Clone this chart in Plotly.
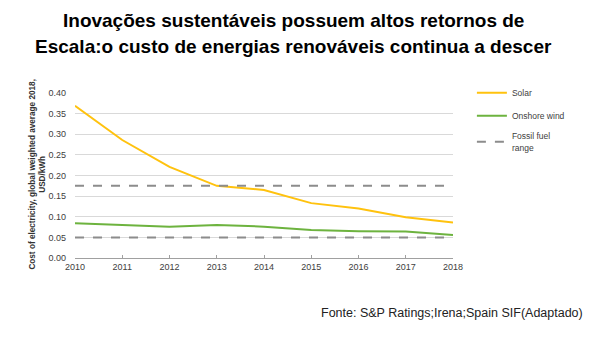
import plotly.graph_objects as go

years = [2010, 2011, 2012, 2013, 2014, 2015, 2016, 2017, 2018]
solar = [0.369, 0.286, 0.221, 0.175, 0.165, 0.133, 0.120, 0.099, 0.086]
onshore_wind = [0.084, 0.080, 0.076, 0.080, 0.076, 0.068, 0.065, 0.064, 0.056]
fossil_low = [0.05] * len(years)
fossil_high = [0.175] * len(years)
y_ticks = [0.00, 0.05, 0.10, 0.15, 0.20, 0.25, 0.30, 0.35, 0.40]

fig = go.Figure()
fig.add_trace(go.Scatter(x=years, y=solar, mode="lines", name="Solar",
                         line=dict(color="#ffc20e", width=2), legendgroup="s"))
fig.add_trace(go.Scatter(x=years, y=onshore_wind, mode="lines", name="Onshore wind",
                         line=dict(color="#6db33f", width=2), legendgroup="w"))
fig.add_trace(go.Scatter(x=years, y=fossil_high, mode="lines", name="Fossil fuel<br>range",
                         line=dict(color="#8c8c8c", width=2, dash="dash"), legendgroup="f"))
fig.add_trace(go.Scatter(x=years, y=fossil_low, mode="lines", name="Fossil fuel<br>range",
                         line=dict(color="#8c8c8c", width=2, dash="dash"), legendgroup="f",
                         showlegend=False))

fig.update_layout(
    width=602, height=339,
    margin=dict(l=75, r=149, t=93, b=81),
    paper_bgcolor="white", plot_bgcolor="white",
    font=dict(family="Liberation Sans, Arial, sans-serif", color="#404040"),
    legend=dict(x=1.050, y=1.09, xanchor="left", yanchor="top",
                font=dict(size=8.5, color="#404040"), tracegroupgap=4,
                traceorder="grouped",
                bgcolor="rgba(0,0,0,0)", itemwidth=30),
    showlegend=True,
)
fig.add_annotation(text="<b>Inovações sustentáveis possuem altos retornos de</b>",
                   xref="paper", yref="paper", x=0.577, y=1.442, xanchor="center", yanchor="middle",
                   showarrow=False, font=dict(size=19, color="black"))
fig.add_annotation(text="<b>Escala:o custo de energias renováveis continua a descer</b>",
                   xref="paper", yref="paper", x=0.577, y=1.279, xanchor="center", yanchor="middle",
                   showarrow=False, font=dict(size=19, color="black"))
fig.add_annotation(text="<b>Cost of electricity, global weighted average 2018,<br>USD/kWh</b>",
                   xref="paper", yref="paper", x=-0.099, y=0.509, xanchor="center", yanchor="middle",
                   textangle=-90, showarrow=False, font=dict(size=8.2, color="#333333"))
fig.update_xaxes(range=[2010, 2018], tickvals=years, ticktext=[str(y) for y in years],
                 showgrid=False, showline=True, linecolor="#a0a0a0", linewidth=1,
                 ticks="inside", ticklen=3, tickcolor="#a0a0a0",
                 tickfont=dict(size=9, color="#404040"), zeroline=False)
fig.update_yaxes(range=[0, 0.40], tickvals=y_ticks, ticktext=[f"{v:.2f}" for v in y_ticks],
                 showgrid=True, gridcolor="#d9d9d9", gridwidth=1, zeroline=False,
                 showline=False, tickfont=dict(size=9, color="#404040"), ticklabelstandoff=8)
fig.add_annotation(text="Fonte: S&P Ratings;Irena;Spain SIF(Adaptado)", xref="paper", yref="paper",
                   x=1.349, y=-0.333, xanchor="right", yanchor="middle", showarrow=False,
                   font=dict(size=12.5, color="#222222"))

fig.write_html("out.html")
